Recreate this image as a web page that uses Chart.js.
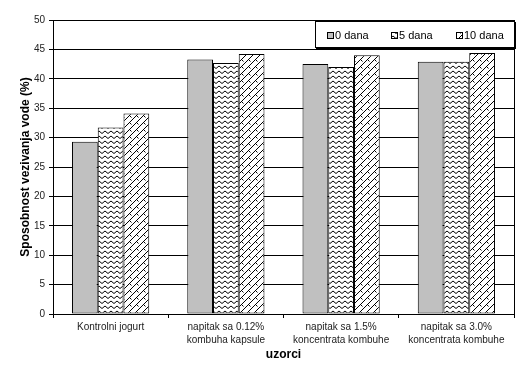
<!DOCTYPE html>
<html>
<head>
<meta charset="utf-8">
<script src="https://cdn.jsdelivr.net/npm/chart.js@4.4.1/dist/chart.umd.min.js"></script>
<style>
html, body { margin: 0; padding: 0; background: #fff; }
#wrap { width: 532px; height: 365px; }
</style>
</head>
<body>
<div id="wrap"><canvas id="chart" width="532" height="365"></canvas></div>
<script>
// DATA
// ====
const categories = [
    ['Kontrolni jogurt'],
    ['napitak sa 0.12%', 'kombuha kapsule'],
    ['napitak sa 1.5%', 'koncentrata kombuhe'],
    ['napitak sa 3.0%', 'koncentrata kombuhe'],
];
const seriesNames = ['0 dana', '5 dana', '10 dana'];
const day0 = [29.3, 43.3, 42.5, 42.9];
const day5 = [31.7, 42.7, 42.0, 42.9];
const day10 = [34.1, 44.2, 44.0, 44.4];
const yMin = 0;
const yMax = 50;
const yStep = 5;

const FONT = '"Liberation Sans", Arial, sans-serif';

// PATTERNS
// ========
function makePattern(w, h, draw) {
    const c = document.createElement('canvas');
    c.width = w;
    c.height = h;
    const g = c.getContext('2d');
    g.fillStyle = '#fff';
    g.fillRect(0, 0, w, h);
    g.strokeStyle = '#000';
    g.lineWidth = 1;
    draw(g);
    return document.getElementById('chart').getContext('2d').createPattern(c, 'repeat');
}

// zigzag lines for "5 dana"
const wavePattern = makePattern(6, 5, (g) => {
    g.beginPath();
    g.moveTo(0, 3.5);
    g.lineTo(3, 1);
    g.lineTo(6, 3.5);
    g.stroke();
});

// diagonal brick for "10 dana": long "/" lines, short "\" ticks
const brickPattern = makePattern(7, 7, (g) => {
    g.beginPath();
    g.moveTo(-1, 8);
    g.lineTo(8, -1);
    g.moveTo(3.5, 3.5);
    g.lineTo(5.5, 5.5);
    g.stroke();
});

const fills = ['#c0c0c0', wavePattern, brickPattern];

// PLUGINS
// =======
// Border round the plot area
const plotBorder = {
    id: 'plotBorder',
    afterDatasetsDraw(chart) {
        const { ctx, chartArea: a } = chart;
        ctx.save();
        ctx.strokeStyle = '#000';
        ctx.lineWidth = 1;
        ctx.strokeRect(Math.round(a.left) + 0.5, Math.round(a.top) + 0.5,
            Math.round(a.right - a.left), Math.round(a.bottom - a.top));
        ctx.restore();
    },
};

// Boxed legend drawn over the top right of the plot
const boxLegend = {
    id: 'boxLegend',
    afterDraw(chart) {
        const ctx = chart.ctx;
        const x = 315, y = 21, w = 200, h = 27;
        ctx.save();
        ctx.fillStyle = '#000';
        ctx.fillRect(x + 1, y + 1, w, h);
        ctx.fillStyle = '#fff';
        ctx.fillRect(x, y, w, h);
        ctx.strokeStyle = '#000';
        ctx.lineWidth = 1;
        ctx.strokeRect(x + 0.5, y + 0.5, w - 1, h - 1);

        const itemX = [327, 391, 456];
        ctx.font = '11px ' + FONT;
        ctx.textBaseline = 'middle';
        chart.data.datasets.forEach((ds, i) => {
            const sx = itemX[i];
            ctx.fillStyle = ds.backgroundColor;
            ctx.fillRect(sx, 32, 6, 6);
            ctx.strokeRect(sx + 0.5, 32.5, 6, 6);
            ctx.fillStyle = '#000';
            ctx.fillText(ds.label, sx + 8, 35.5);
        });
        ctx.restore();
    },
};

// CHART
// =====
new Chart(document.getElementById('chart'), {
    type: 'bar',
    data: {
        labels: categories,
        datasets: [day0, day5, day10].map((values, i) => ({
            label: seriesNames[i],
            data: values,
            backgroundColor: fills[i],
            borderColor: '#000',
            borderWidth: 1,
            borderSkipped: false,
            barPercentage: 1,
            categoryPercentage: 0.67,
        })),
    },
    options: {
        responsive: false,
        animation: false,
        devicePixelRatio: 1,
        layout: { padding: { top: 20, right: 18, bottom: 0, left: 0 } },
        plugins: {
            legend: { display: false },
            tooltip: { enabled: false },
        },
        scales: {
            x: {
                afterFit: (scale) => { scale.height = 51; },
                border: { color: '#000', width: 1 },
                grid: {
                    drawOnChartArea: false,
                    drawTicks: true,
                    tickLength: 4,
                    color: '#000',
                },
                ticks: {
                    color: '#222',
                    padding: 3,
                    maxRotation: 0,
                    font: { family: FONT, size: 10, lineHeight: 1.3 },
                },
                title: {
                    display: true,
                    text: 'uzorci',
                    color: '#000',
                    padding: { top: 0, bottom: 3 },
                    font: { family: FONT, size: 12, weight: 'bold' },
                },
            },
            y: {
                min: yMin,
                max: yMax,
                afterFit: (scale) => { scale.width = 53; },
                border: { color: '#000', width: 1 },
                grid: {
                    color: '#000',
                    tickLength: 4,
                },
                ticks: {
                    stepSize: yStep,
                    color: '#222',
                    padding: 4,
                    font: { family: FONT, size: 10 },
                },
                title: {
                    display: true,
                    text: 'Sposobnost vezivanja vode (%)',
                    color: '#000',
                    padding: { top: 18, bottom: 0 },
                    font: { family: FONT, size: 12, weight: 'bold' },
                },
            },
        },
    },
    plugins: [plotBorder, boxLegend],
});
</script>
</body>
</html>
